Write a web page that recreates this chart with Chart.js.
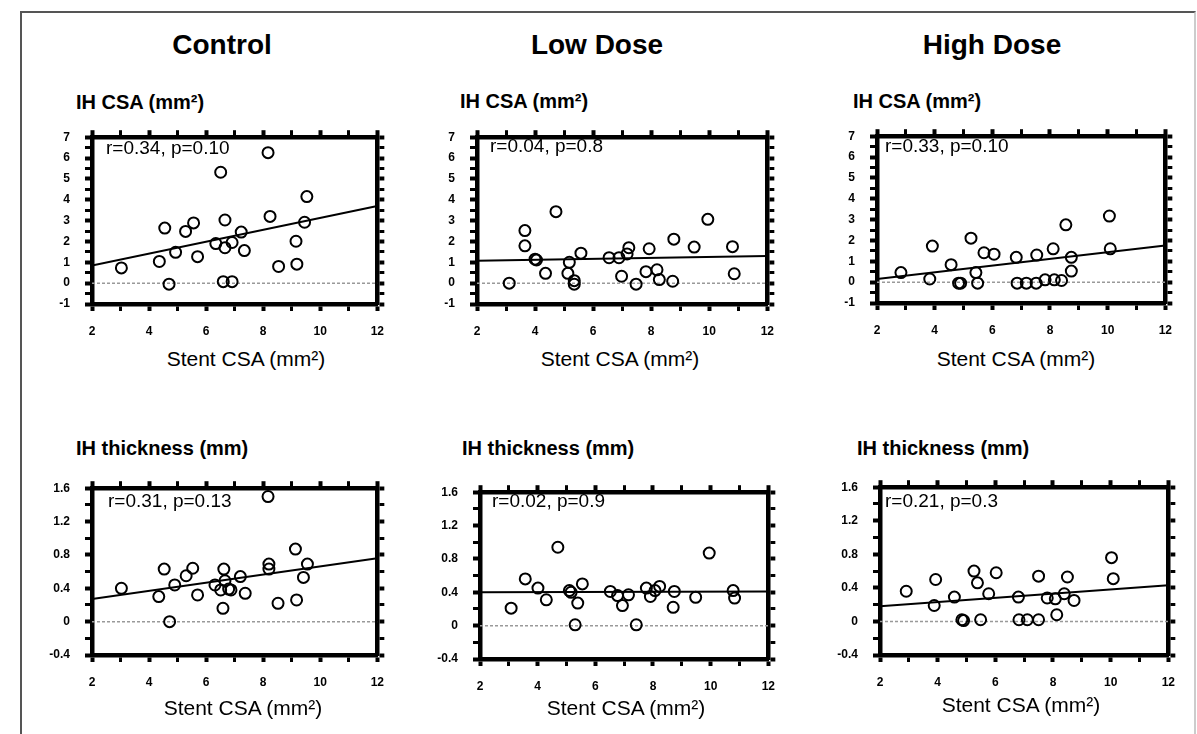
<!DOCTYPE html>
<html><head><meta charset="utf-8">
<script src="https://cdn.jsdelivr.net/npm/chart.js@4.4.0/dist/chart.umd.min.js"></script>
<style>
html,body{margin:0;padding:0;background:#fff;}
body{width:1197px;height:734px;position:relative;overflow:hidden;font-family:"Liberation Sans",Arial,sans-serif;color:#000;}
.frame{position:absolute;left:20px;top:11px;width:1172px;height:740px;border-left:2px solid #555;border-top:2px solid #555;border-right:2px solid #ccc;}
.t{position:absolute;white-space:nowrap;line-height:1;}
canvas{position:absolute;}
</style></head><body>
<div class="frame"></div>
<script>
// ---------- data ----------
const groupTitles = ['Control', 'Low Dose', 'High Dose'];
const csaTitle = 'IH CSA (mm²)';
const thickTitle = 'IH thickness (mm)';
const xTitle = 'Stent CSA (mm²)';
const statsText = ['r=0.34, p=0.10', 'r=0.04, p=0.8', 'r=0.33, p=0.10', 'r=0.31, p=0.13', 'r=0.02, p=0.9', 'r=0.21, p=0.3'];

const xRange = [2, 12];
const csaRange = [-1, 7];
const thickRange = [-0.4, 1.6];

const ctrlCsaX = [3.03,4.36,4.55,4.70,4.93,5.28,5.56,5.70,6.34,6.51,6.66,6.66,6.60,6.91,6.91,7.23,7.34,8.17,8.24,8.54,9.15,9.18,9.45,9.53];
const ctrlCsaY = [0.73,1.04,2.64,-0.05,1.48,2.48,2.89,1.27,1.90,5.32,3.03,1.70,0.07,0.07,1.95,2.45,1.56,6.26,3.20,0.80,2.01,0.91,2.92,4.15];
const ctrlCsaFit = [0.85, 3.70];

const lowCsaX = [3.11,3.65,3.65,4.05,4.00,4.36,4.72,5.13,5.18,5.35,5.35,5.58,6.55,6.89,6.98,7.17,7.23,7.48,7.82,7.93,8.20,8.28,8.74,8.78,9.48,9.95,10.80,10.86];
const lowCsaY = [0.00,2.52,1.79,1.11,1.15,0.47,3.43,0.47,1.00,0.12,-0.05,1.44,1.22,1.22,0.33,1.40,1.70,-0.05,0.55,1.65,0.64,0.17,0.09,2.11,1.73,3.06,1.75,0.45];
const lowCsaFit = [1.08, 1.30];

const highCsaX = [2.83,3.83,3.92,4.57,4.83,4.90,5.26,5.43,5.49,5.71,6.06,6.83,6.86,7.18,7.52,7.54,7.83,8.11,8.15,8.40,8.55,8.74,8.74,10.06,10.09];
const highCsaY = [0.46,0.15,1.73,0.84,-0.05,-0.05,2.11,0.46,-0.05,1.41,1.34,1.19,-0.05,-0.05,-0.05,1.30,0.11,1.60,0.11,0.08,2.75,1.19,0.53,3.17,1.60];
const highCsaFit = [0.15, 1.76];

const ctrlThX = [3.03,4.34,4.53,4.72,4.90,5.30,5.53,5.70,6.31,6.51,6.62,6.66,6.59,6.79,6.87,7.20,7.37,8.17,8.20,8.20,8.52,9.13,9.17,9.41,9.55];
const ctrlThY = [0.40,0.30,0.63,0.00,0.44,0.55,0.64,0.32,0.44,0.38,0.63,0.49,0.16,0.39,0.38,0.54,0.34,1.50,0.69,0.63,0.22,0.87,0.26,0.53,0.69];
const ctrlThFit = [0.27, 0.76];

const lowThX = [3.08,3.57,4.01,4.30,4.70,5.10,5.16,5.39,5.30,5.55,6.52,6.77,6.94,7.15,7.42,7.77,7.91,8.07,8.23,8.74,8.70,9.48,9.95,10.78,10.83];
const lowThY = [0.21,0.56,0.45,0.31,0.94,0.42,0.40,0.27,0.01,0.50,0.41,0.36,0.24,0.37,0.01,0.45,0.35,0.42,0.47,0.41,0.22,0.34,0.87,0.42,0.33];
const lowThFit = [0.40, 0.41];

const highThX = [2.91,3.88,3.93,4.58,4.84,4.90,5.26,5.38,5.49,5.77,6.03,6.80,6.82,7.11,7.50,7.50,7.80,8.08,8.13,8.39,8.50,8.73,10.03,10.09];
const highThY = [0.36,0.19,0.50,0.29,0.02,0.01,0.60,0.46,0.02,0.33,0.58,0.29,0.02,0.02,0.02,0.54,0.28,0.27,0.08,0.33,0.53,0.25,0.76,0.51];
const highThFit = [0.18, 0.43];

// ---------- layout ----------
const FONT = '"Liberation Sans", Arial, sans-serif';
function addText(txt, x, y, size, weight, align) {
  const d = document.createElement('div');
  d.className = 't';
  d.textContent = txt;
  d.style.left = x + 'px';
  d.style.top = y + 'px';
  d.style.fontSize = size + 'px';
  d.style.fontWeight = weight;
  d.style.transform = align === 'center' ? 'translate(-50%,-50%)' : 'translateY(-50%)';
  document.body.appendChild(d);
}

const L = 50, R = 15, T = 15, B = 42;

function makePanel(box, xs, ys, fit, yRange, yStep, isMajorY, fmtY) {
  const w = box[1] - box[0], h = box[3] - box[2];
  const c = document.createElement('canvas');
  c.width = w + L + R; c.height = h + T + B;
  c.style.left = (box[0] - L) + 'px';
  c.style.top = (box[2] - T) + 'px';
  document.body.appendChild(c);

  const isMajorX = v => Math.round(v) % 2 === 0;
  const tickFont = {family: FONT, size: 12, weight: 'bold'};
  function ax(min, max, step, major, labelFn, pad, size, pos) {
    return {
      type: 'linear', position: pos, min, max,
      ticks: {stepSize: step, autoSkip: false, includeBounds: true, color: '#000', font: tickFont,
              padding: pad, maxRotation: 0, callback: labelFn},
      grid: {drawOnChartArea: false, drawTicks: true, tickLength: 7, color: '#000', tickColor: '#000',
             tickWidth: ctx => (ctx.tick && major(ctx.tick.value)) ? 4 : 3},
      border: {display: true, color: '#000', width: 4.5},
      afterFit: s => { if (pos === 'left' || pos === 'right') s.width = size; else s.height = size; }
    };
  }
  const pts = xs.map((x, i) => ({x, y: ys[i]}));
  new Chart(c, {
    type: 'scatter',
    data: {datasets: [
      {data: pts, pointStyle: 'circle', pointRadius: 5.5, pointHoverRadius: 5.5, pointBorderWidth: 2,
       pointBorderColor: '#000', pointBackgroundColor: 'rgba(0,0,0,0)', showLine: false},
      {data: [{x: xRange[0], y: fit[0]}, {x: xRange[1], y: fit[1]}], showLine: true, borderColor: '#000',
       borderWidth: 2, pointRadius: 0, fill: false},
      {data: [{x: xRange[0], y: 0}, {x: xRange[1], y: 0}], showLine: true, borderColor: '#999',
       borderWidth: 1.5, borderDash: [3, 2], pointRadius: 0, fill: false}
    ]},
    options: {
      responsive: false, animation: false, devicePixelRatio: 1,
      layout: {padding: 0},
      plugins: {legend: {display: false}, tooltip: {enabled: false}},
      scales: {
        x: ax(xRange[0], xRange[1], 1, isMajorX, v => isMajorX(v) ? String(v) : '', 13, B, 'bottom'),
        x2: ax(xRange[0], xRange[1], 1, isMajorX, () => '', 0, T, 'top'),
        y: ax(yRange[0], yRange[1], yStep, isMajorY, v => isMajorY(v) ? fmtY(v) : '', 15, L, 'left'),
        y2: ax(yRange[0], yRange[1], yStep, isMajorY, () => '', 0, R, 'right')
      }
    }
  });
}

const csaMajor = v => Math.abs(v - Math.round(v)) < 1e-6;
const csaFmt = v => String(Math.round(v));
const thMajor = v => Math.round(v * 10) % 4 === 0;
const thFmt = v => String(Math.round(v * 10) / 10);

// boxes: [left, right, top, bottom]
const boxes = [
  [92, 382, 130, 304], [477, 772, 130, 304], [877, 1170, 129, 303],
  [92, 382, 481, 655], [480, 773, 485, 659], [880, 1173, 480, 655]
];
makePanel(boxes[0], ctrlCsaX, ctrlCsaY, ctrlCsaFit, csaRange, 0.5, csaMajor, csaFmt);
makePanel(boxes[1], lowCsaX, lowCsaY, lowCsaFit, csaRange, 0.5, csaMajor, csaFmt);
makePanel(boxes[2], highCsaX, highCsaY, highCsaFit, csaRange, 0.5, csaMajor, csaFmt);
makePanel(boxes[3], ctrlThX, ctrlThY, ctrlThFit, thickRange, 0.2, thMajor, thFmt);
makePanel(boxes[4], lowThX, lowThY, lowThFit, thickRange, 0.2, thMajor, thFmt);
makePanel(boxes[5], highThX, highThY, highThFit, thickRange, 0.2, thMajor, thFmt);

// texts
const titleX = [222, 597, 992];
groupTitles.forEach((t, i) => addText(t, titleX[i], 45, 28, 'bold', 'center'));
const yTitlePos = [[76, 102], [460, 101], [853, 101], [76, 448], [462, 448], [857, 448]];
yTitlePos.forEach((p, i) => addText(i < 3 ? csaTitle : thickTitle, p[0], p[1], 20, 'bold', 'left'));
const xTitlePos = [[246, 358], [620, 358], [1016, 358], [243, 707], [626, 707], [1021, 704]];
xTitlePos.forEach(p => addText(xTitle, p[0], p[1], 21, 'normal', 'center'));
const statPos = [[106, 147], [490, 145], [885, 145], [108, 500], [492, 500], [885, 500]];
statPos.forEach((p, i) => addText(statsText[i], p[0], p[1], 19, 'normal', 'left'));
</script>
</body></html>
